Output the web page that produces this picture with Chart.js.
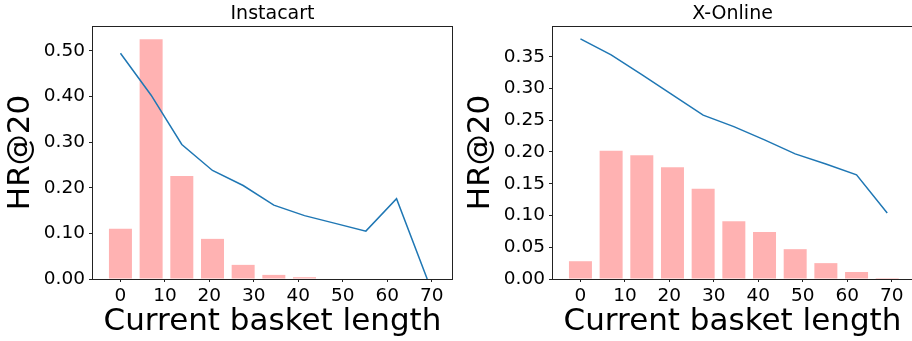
<!DOCTYPE html>
<html>
<head>
<meta charset="utf-8">
<script src="https://cdn.jsdelivr.net/npm/chart.js@4.4.1/dist/chart.umd.min.js"></script>
<style>
  html, body { margin: 0; padding: 0; width: 912px; height: 341px; overflow: hidden; background: #fff; }
  .panel { position: absolute; top: 0; width: 460px; height: 341px; }
  #p1 { left: 0; }
  #p2 { left: 460px; }
  canvas { display: block; }
</style>
</head>
<body>
<div class="panel" id="p1"><canvas id="c1" width="460" height="341"></canvas></div>
<div class="panel" id="p2"><canvas id="c2" width="460" height="341"></canvas></div>
<script>
// Current basket length buckets (x position of each bar / line vertex)
const basketLength = [0, 6.9, 13.8, 20.7, 27.6, 34.5, 41.4, 48.3, 55.2, 62.1, 69];
const xTicks = [0, 10, 20, 30, 40, 50, 60, 70];

// Instacart: share of baskets (bars) and HR@20 (line)
const instacartShare = [0.110, 0.526, 0.226, 0.088, 0.031, 0.009, 0.004, 0, 0, 0, 0];
const instacartHR = [0.495, 0.403, 0.295, 0.238, 0.205, 0.162, 0.139, 0.122, 0.105, 0.176, 0.000];
const instacartYTicks = [0, 0.10, 0.20, 0.30, 0.40, 0.50];

// X-Online: share of baskets (bars) and HR@20 (line)
const xonlineShare = [0.028, 0.202, 0.195, 0.176, 0.142, 0.091, 0.074, 0.047, 0.025, 0.011, 0.0016];
const xonlineHR = [0.378, 0.353, 0.322, 0.290, 0.258, 0.240, 0.219, 0.197, 0.181, 0.164, 0.104];
const xonlineYTicks = [0, 0.05, 0.10, 0.15, 0.20, 0.25, 0.30, 0.35];

const FONT = 'DejaVu Sans';
const INK = '#222222';
Chart.defaults.color = '#000000';
Chart.defaults.font.family = FONT;

// Frame drawn around the plotting area on all four sides
const frame = {
  id: 'frame',
  afterDatasetsDraw(chart) {
    const { ctx, chartArea: a } = chart;
    ctx.save();
    ctx.strokeStyle = INK;
    ctx.lineWidth = 1;
    ctx.strokeRect(a.left + 0.5, a.top + 0.5, a.right - a.left - 1, a.bottom - a.top);
    ctx.restore();
  }
};

function pts(values) {
  return basketLength.map((x, i) => ({ x: x, y: values[i] }));
}

function makeChart(id, title, share, hr, yTicks, yMax) {
  return new Chart(document.getElementById(id), {
    type: 'bar',
    data: {
      datasets: [
        {
          type: 'line',
          data: pts(hr),
          borderColor: '#1f77b4',
          borderWidth: 1.5,
          pointRadius: 0,
          tension: 0,
          fill: false,
          order: 0
        },
        {
          type: 'bar',
          data: pts(share),
          backgroundColor: 'rgba(255, 0, 0, 0.3)',
          borderWidth: 0,
          barPercentage: 0.75,
          categoryPercentage: 1.0,
          order: 1
        }
      ]
    },
    options: {
      responsive: false,
      animation: false,
      devicePixelRatio: 1,
      layout: { padding: { left: 0, right: 7, top: 0, bottom: 0 } },
      plugins: {
        legend: { display: false },
        tooltip: { enabled: false },
        title: {
          display: true,
          text: title,
          fullSize: false,
          color: '#000',
          font: { family: FONT, size: 19, weight: 'normal' },
          padding: { top: 2.6, bottom: 0.6 }
        }
      },
      scales: {
        x: {
          type: 'linear',
          min: -6.4,
          max: 74.8,
          offset: false,
          afterFit(scale) { scale.height = 62; },
          afterBuildTicks(scale) { scale.ticks = xTicks.map(v => ({ value: v })); },
          grid: { display: true, offset: false, drawOnChartArea: false, drawTicks: true, tickLength: 3, color: INK, lineWidth: 1 },
          border: { display: false },
          ticks: {
            color: '#000',
            padding: 3,
            maxRotation: 0,
            font: { family: FONT, size: 18.5 },
            callback: v => String(v)
          },
          title: {
            display: true,
            text: 'Current basket length',
            color: '#000',
            font: { family: FONT, size: 31 },
            padding: { top: 0, bottom: 0 }
          }
        },
        y: {
          min: 0,
          max: yMax,
          afterFit(scale) { scale.width = 92; },
          afterBuildTicks(scale) { scale.ticks = yTicks.map(v => ({ value: v })); },
          grid: { display: true, drawOnChartArea: false, drawTicks: true, tickLength: 3, color: INK, lineWidth: 1 },
          border: { display: false },
          ticks: {
            color: '#000',
            padding: 4,
            font: { family: FONT, size: 18.5 },
            callback: v => Number(v).toFixed(2)
          },
          title: {
            display: true,
            text: 'HR@20',
            color: '#000',
            font: { family: FONT, size: 31 },
            padding: { top: 2, bottom: 0 }
          }
        }
      }
    },
    plugins: [frame]
  });
}

makeChart('c1', 'Instacart', instacartShare, instacartHR, instacartYTicks, 0.5548);
makeChart('c2', 'X-Online', xonlineShare, xonlineHR, xonlineYTicks, 0.3984);
</script>
</body>
</html>
